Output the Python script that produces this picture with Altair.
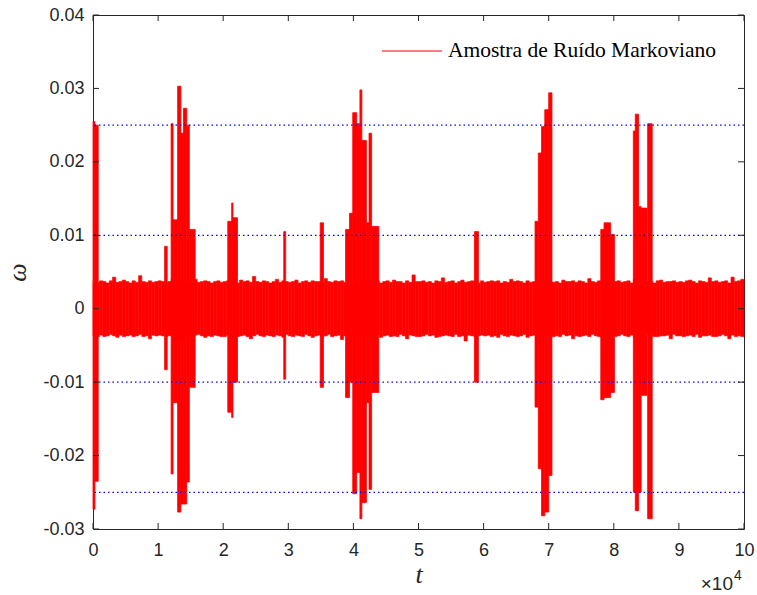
import altair as alt
import pandas as pd

# ---------------- data ----------------
x_ticks = [0, 1, 2, 3, 4, 5, 6, 7, 8, 9, 10]          # units of 1e4
y_ticks = [-0.03, -0.02, -0.01, 0.0, 0.01, 0.02, 0.03, 0.04]
ref_lines = [-0.025, -0.01, 0.01, 0.025]

# background noise envelope, 200 segments of 0.05 (x1e4), values in 1e-4
base_step = 0.05
base_top = [
    37, 36, 38, 37, 35, 38, 43, 36, 37, 39, 37, 35, 38, 36, 45, 37, 36, 38, 36, 37,
    38, 37, 35, 37, 41, 36, 38, 37, 37, 35, 38, 40, 36, 37, 38, 37, 35, 37, 38, 36,
    37, 38, 36, 37, 35, 39, 37, 38, 36, 44, 37, 36, 38, 37, 35, 37, 40, 36, 38, 37,
    36, 37, 39, 35, 37, 38, 36, 38, 37, 37, 35, 41, 37, 36, 38, 37, 38, 36, 37, 35,
    37, 35, 38, 37, 40, 36, 37, 38, 35, 37, 38, 36, 39, 37, 37, 35, 38, 36, 46, 37,
    37, 38, 36, 37, 35, 38, 37, 42, 36, 37, 38, 35, 37, 39, 36, 37, 38, 37, 35, 38,
    36, 37, 38, 37, 38, 35, 37, 36, 40, 37, 38, 37, 35, 38, 36, 37, 39, 37, 36, 38,
    38, 36, 37, 35, 39, 37, 37, 38, 36, 38, 37, 35, 41, 37, 36, 38, 37, 38, 35, 37,
    37, 38, 36, 37, 38, 35, 40, 37, 36, 38, 37, 37, 35, 38, 39, 36, 37, 37, 38, 36,
    37, 36, 38, 39, 37, 35, 38, 37, 36, 42, 37, 38, 36, 37, 38, 35, 43, 37, 38, 40,
]
base_bot = [
    37, 38, 36, 38, 37, 35, 37, 39, 36, 38, 37, 36, 38, 37, 35, 38, 37, 41, 36, 37,
    36, 37, 38, 37, 35, 38, 43, 36, 37, 37, 38, 36, 35, 37, 39, 37, 38, 36, 37, 38,
    38, 36, 37, 35, 38, 37, 36, 38, 41, 37, 35, 37, 38, 36, 37, 38, 36, 37, 39, 35,
    37, 38, 36, 37, 38, 35, 37, 39, 37, 36, 38, 37, 35, 38, 37, 36, 42, 37, 38, 36,
    35, 37, 37, 38, 36, 38, 37, 35, 39, 37, 36, 38, 37, 38, 35, 37, 41, 36, 37, 38,
    38, 37, 35, 37, 36, 39, 38, 37, 36, 37, 38, 35, 38, 37, 44, 36, 37, 38, 37, 36,
    37, 36, 38, 37, 39, 35, 37, 38, 36, 37, 38, 37, 35, 39, 37, 36, 38, 37, 38, 35,
    36, 38, 37, 38, 35, 37, 36, 41, 37, 38, 37, 36, 38, 35, 37, 38, 39, 36, 37, 38,
    38, 37, 35, 37, 38, 36, 38, 37, 39, 37, 35, 36, 38, 38, 37, 37, 36, 41, 35, 37,
    37, 38, 37, 36, 38, 35, 39, 37, 37, 36, 38, 38, 37, 35, 37, 41, 36, 38, 37, 38,
]

# bursts: start, end (x1e4), min, max
burst_t0 = [0.00, 0.03, 1.10, 1.20, 1.23, 1.30, 1.35, 1.39, 1.44, 1.48,
            2.07, 2.13, 2.15, 2.93, 3.49, 3.88, 3.94, 3.99, 4.05, 4.10,
            4.13, 4.20, 4.24, 4.28, 5.86, 6.79, 6.84, 6.89, 6.94, 7.00,
            7.80, 7.85, 7.95, 8.30, 8.33, 8.38, 8.42, 8.52]
burst_t1 = [0.03, 0.08, 1.14, 1.23, 1.30, 1.35, 1.39, 1.44, 1.48, 1.57,
            2.13, 2.15, 2.22, 2.96, 3.54, 3.94, 3.99, 4.05, 4.10, 4.13,
            4.20, 4.24, 4.28, 4.39, 5.92, 6.84, 6.89, 6.94, 7.00, 7.05,
            7.85, 7.95, 8.01, 8.33, 8.38, 8.42, 8.51, 8.59]
burst_lo = [-0.0273, -0.0235, -0.0083, -0.0225, -0.0128, -0.0277, -0.0266, -0.0266, -0.0236, -0.0107,
            -0.0141, -0.0148, -0.0100, -0.0096, -0.0107, -0.0121, -0.0100, -0.0252, -0.0223, -0.0286,
            -0.0264, -0.0128, -0.0246, -0.0114, -0.0100, -0.0134, -0.0218, -0.0282, -0.0277, -0.0227,
            -0.0124, -0.0121, -0.0114, -0.0250, -0.0275, -0.0250, -0.0118, -0.0286]
burst_hi = [0.0255, 0.0250, 0.0085, 0.0252, 0.0121, 0.0303, 0.0239, 0.0273, 0.0250, 0.0108,
            0.0119, 0.0144, 0.0124, 0.0105, 0.0117, 0.0108, 0.0130, 0.0267, 0.0252, 0.0298,
            0.0229, 0.0117, 0.0239, 0.0112, 0.0105, 0.0119, 0.0212, 0.0248, 0.0271, 0.0294,
            0.0108, 0.0117, 0.0101, 0.0242, 0.0265, 0.0139, 0.0137, 0.0252]

legend_label = "Amostra de Ruído Markoviano"

# ---------------- chart ----------------
W, H = 651, 514
AX = "#262626"
RED = "#ff0000"

xs = alt.Scale(domain=[0, 10], nice=False, zero=False)
ys = alt.Scale(domain=[-0.03, 0.04], nice=False, zero=False)

x_axis = alt.Axis(values=x_ticks, ticks=False, domain=False, grid=False,
                  labelFont="Liberation Sans", labelFontSize=18, labelColor=AX,
                  labelPadding=12, labelFlush=False,
                  titleFont="Liberation Serif", titleFontStyle="italic", titleFontWeight="normal",
                  titleFontSize=26, titleColor=AX, titlePadding=2)
y_axis = alt.Axis(values=y_ticks, ticks=False, domain=False, grid=False,
                  labelFont="Liberation Sans", labelFontSize=18, labelColor=AX,
                  labelPadding=9, labelFlush=False,
                  labelExpr="datum.value == 0 ? '0' : (datum.value < 0 ? '-' + format(abs(datum.value), '.2f') : format(datum.value, '.2f'))",
                  titleFont="Liberation Serif", titleFontStyle="italic", titleFontWeight="normal",
                  titleFontSize=26, titleColor=AX, titlePadding=12)


def X(field):
    return alt.X(field, type="quantitative", scale=xs, axis=x_axis, title="t")


def Y(field):
    return alt.Y(field, type="quantitative", scale=ys, axis=y_axis, title="ω")


base_df = pd.DataFrame({
    "t0": [i * base_step for i in range(len(base_top))],
    "t1": [(i + 1) * base_step for i in range(len(base_top))],
    "lo": [-b * 1e-4 for b in base_bot],
    "hi": [t * 1e-4 for t in base_top],
})
burst_df = pd.DataFrame({"t0": burst_t0, "t1": burst_t1, "lo": burst_lo, "hi": burst_hi})

base = alt.Chart(base_df).mark_rect(color=RED, stroke=RED, strokeWidth=0.6).encode(
    x=X("t0"), x2="t1:Q", y=Y("lo"), y2="hi:Q")
bursts = alt.Chart(burst_df).mark_rect(color=RED, stroke=RED, strokeWidth=0.8).encode(
    x=X("t0"), x2="t1:Q", y=Y("lo"), y2="hi:Q")
refs = alt.Chart(pd.DataFrame({"lo": ref_lines})).mark_rule(
    color="#0000ff", strokeDash=[1.5, 3], strokeWidth=1.2
).encode(y=Y("lo"))

xt = pd.DataFrame({"t0": x_ticks})
yt = pd.DataFrame({"lo": y_ticks})
tick_bot = alt.Chart(xt).mark_rule(color=AX).encode(
    x=X("t0"), y=alt.value(H - 6), y2=alt.value(H))
tick_top = alt.Chart(xt).mark_rule(color=AX).encode(
    x=X("t0"), y=alt.value(0), y2=alt.value(6))
tick_left = alt.Chart(yt).mark_rule(color=AX).encode(
    y=Y("lo"), x=alt.value(0), x2=alt.value(6))
tick_right = alt.Chart(yt).mark_rule(color=AX).encode(
    y=Y("lo"), x=alt.value(W - 6), x2=alt.value(W))

one = pd.DataFrame({"a": [0]})
leg_line = alt.Chart(one).mark_rule(color=RED, strokeWidth=1.2).encode(
    x=alt.value(289), x2=alt.value(349), y=alt.value(36))
leg_text = alt.Chart(one).mark_text(
    text=legend_label, align="left", baseline="alphabetic",
    font="Liberation Serif", fontSize=21.5, color="#000000"
).encode(x=alt.value(355), y=alt.value(42))

exp_main = alt.Chart(one).mark_text(
    text="×10", align="right", baseline="alphabetic",
    font="Liberation Sans", fontSize=19, color=AX
).encode(x=alt.value(640), y=alt.value(575))
exp_sup = alt.Chart(one).mark_text(
    text="4", align="left", baseline="alphabetic",
    font="Liberation Sans", fontSize=14, color=AX
).encode(x=alt.value(641), y=alt.value(565))

chart = alt.layer(
    base, bursts, refs, tick_bot, tick_top, tick_left, tick_right,
    leg_line, leg_text, exp_main, exp_sup
).properties(
    width=W, height=H,
    autosize=alt.AutoSizeParams(type="none"),
    padding={"left": 93, "top": 15, "right": 13, "bottom": 66},
    background="white",
).configure_view(stroke=AX, strokeWidth=1)

chart.save("out.html", embed_options={"renderer": "svg", "actions": False})
